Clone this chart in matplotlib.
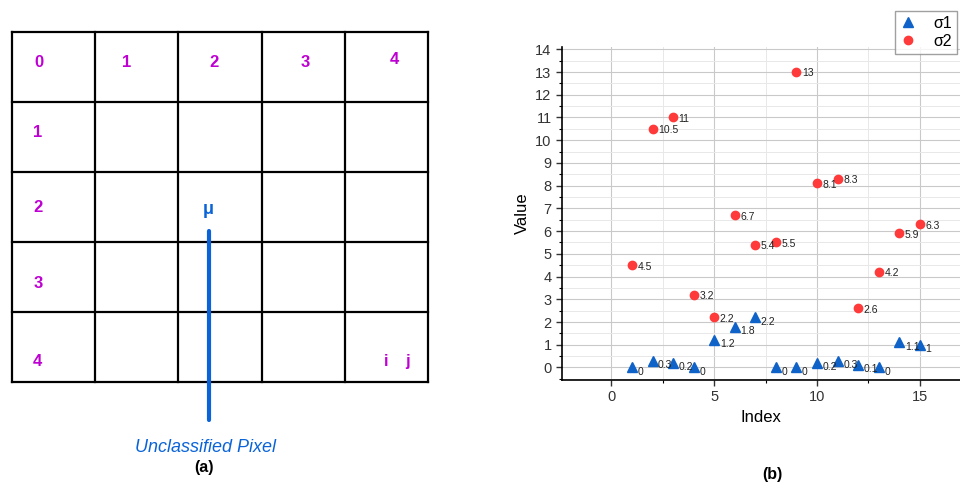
import numpy as np
import matplotlib.pyplot as plt
from matplotlib.ticker import MultipleLocator

plt.rcParams['font.family'] = ['Liberation Sans', 'DejaVu Sans']

# data for panel (b)
index = [1, 2, 3, 4, 5, 6, 7, 8, 9, 10, 11, 12, 13, 14, 15]
sigma1 = [0, 0.3, 0.2, 0, 1.2, 1.8, 2.2, 0, 0, 0.2, 0.3, 0.1, 0, 1.1, 1]
sigma2 = [4.5, 10.5, 11, 3.2, 2.2, 6.7, 5.4, 5.5, 13, 8.1, 8.3, 2.6, 4.2, 5.9, 6.3]

# labels for panel (a)
col_labels = ['0', '1', '2', '3', '4']
row_labels = ['1', '2', '3', '4']
col_label_x = [0.32, 1.38, 2.43, 3.52, 4.6]
col_label_y = [0.43, 0.43, 0.43, 0.43, 0.39]
row_label_y = [1.44, 2.5, 3.6, 4.7]

purple = '#BE00D2'
blue_txt = '#0A64D8'
c_blue = '#0F62C8'
c_red = '#FF3A3A'

fig = plt.figure(figsize=(9.6, 4.84), dpi=100)

# ---- panel (a): pixel grid ----
axa = fig.add_axes([12/960, 1-382/484, 416/960, 350/484])
axa.set_xlim(0, 5)
axa.set_ylim(5, 0)
axa.axis('off')
for k in range(6):
    axa.plot([k, k], [0, 5], color='black', lw=1.6, clip_on=False)
    axa.plot([0, 5], [k, k], color='black', lw=1.6, clip_on=False)

for lab, x, y in zip(col_labels, col_label_x, col_label_y):
    axa.text(x, y, lab, color=purple, fontsize=12, fontweight='bold', ha='center', va='center')
for lab, y in zip(row_labels, row_label_y):
    axa.text(0.31, y, lab, color=purple, fontsize=12, fontweight='bold', ha='center', va='center')
axa.text(4.5, 4.71, 'i', color=purple, fontsize=12, fontweight='bold', ha='center', va='center')
axa.text(4.75, 4.71, 'j', color=purple, fontsize=12, fontweight='bold', ha='center', va='center')

axa.text(2.36, 2.54, 'μ', color=blue_txt, fontsize=13, fontweight='bold', ha='center', va='center')
axa.plot([2.37, 2.37], [2.84, 5.54], color=blue_txt, lw=3, solid_capstyle='round', clip_on=False)
axa.text(2.32, 5.94, 'Unclassified Pixel', color=blue_txt, fontsize=13, style='italic',
         ha='center', va='center', clip_on=False)
axa.text(2.31, 6.22, '(a)', color='black', fontsize=11.5, fontweight='bold',
         ha='center', va='center', clip_on=False)

# ---- panel (b): scatter ----
ax = fig.add_axes([562/960, 1-380/484, 398/960, 333/484])
ax.plot(index, sigma1, linestyle='none', marker='^', ms=6.5, color=c_blue, label='σ1', zorder=3)
ax.plot(index, sigma2, linestyle='none', marker='o', ms=6, color=c_red, label='σ2', zorder=3)
for x, y in zip(index, sigma1):
    ax.annotate(f'{y:g}', (x, y), xytext=(4, -3), textcoords='offset points',
                fontsize=7.5, va='center', ha='left', color='#222222')
for x, y in zip(index, sigma2):
    ax.annotate(f'{y:g}', (x, y), xytext=(4, -1), textcoords='offset points',
                fontsize=7.5, va='center', ha='left', color='#222222')

ax.set_xlim(-2.4, 16.95)
ax.set_ylim(-0.55, 14.1)
ax.xaxis.set_major_locator(MultipleLocator(5))
ax.xaxis.set_minor_locator(MultipleLocator(2.5))
ax.yaxis.set_major_locator(MultipleLocator(1))
ax.yaxis.set_minor_locator(MultipleLocator(0.5))
ax.tick_params(which='major', direction='out', length=4, width=1, labelsize=10.5, colors='#333333')
ax.tick_params(which='minor', direction='out', length=2.5, width=0.8)
ax.grid(which='major', color='#c9c9c9', lw=0.8)
ax.grid(which='minor', color='#e8e8e8', lw=0.7)
ax.set_axisbelow(True)
for s in ['top', 'right']:
    ax.spines[s].set_visible(False)
ax.spines['left'].set_linewidth(1.2)
ax.spines['bottom'].set_linewidth(1.2)
ax.set_xlabel('Index', fontsize=12, labelpad=4)
ax.set_ylabel('Value', fontsize=12, labelpad=4)

fig.legend(loc='upper right', bbox_to_anchor=(957/960, 1-11/484), fontsize=11.5,
           frameon=True, fancybox=False, edgecolor='#888888', handlelength=1.0,
           handletextpad=1.1, borderpad=0.3, labelspacing=0.2, borderaxespad=0)

fig.text(772/960, 1-474/484, '(b)', fontsize=11.5, fontweight='bold', ha='center', va='center')

fig.savefig('out.png', dpi=100)
